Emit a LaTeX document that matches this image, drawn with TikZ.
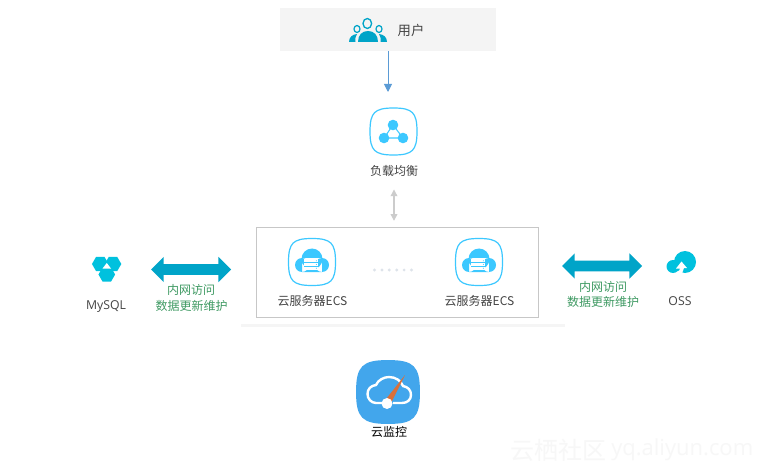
\documentclass[tikz,border=0pt]{standalone}
\usepackage{fontspec}
\setmainfont{Open Sans}
\newfontfamily\cjk{Noto Sans CJK SC}
\usetikzlibrary{arrows.meta,shapes.arrows,shapes.geometric}
\definecolor{teal1}{HTML}{00A4C8}
\definecolor{sky}{HTML}{3CC8FF}
\definecolor{cyan1}{HTML}{00C1DE}
\definecolor{txt}{HTML}{444444}
\definecolor{grn}{HTML}{3F9A63}
\tikzset{
  lbl/.style={font=\cjk\fontsize{9}{11}\selectfont,text=txt,inner sep=0pt,align=center},
  latin/.style={font=\fontsize{9.2}{11}\selectfont,text=txt,inner sep=0pt},
  grnlbl/.style={font=\cjk\fontsize{9}{11}\selectfont,text=grn,inner sep=0pt},
  fatarrow/.style={double arrow,draw=none,fill=teal1,inner sep=0pt,minimum height=60pt,
     double arrow head extend=5.6pt,double arrow tip angle=90},
  squircle/.pic={\path[pic actions] (0,-23.5) .. controls (19,-23.5) and (23.5,-19) .. (23.5,0)
     .. controls (23.5,19) and (19,23.5) .. (0,23.5)
     .. controls (-19,23.5) and (-23.5,19) .. (-23.5,0)
     .. controls (-23.5,-19) and (-19,-23.5) .. (0,-23.5) -- cycle;},
  ecsicon/.pic={
    \path[draw=sky,line width=.9pt,fill=white] (0,-23.5) .. controls (19,-23.5) and (23.5,-19) .. (23.5,0)
     .. controls (23.5,19) and (19,23.5) .. (0,23.5)
     .. controls (-19,23.5) and (-23.5,19) .. (-23.5,0)
     .. controls (-23.5,-19) and (-19,-23.5) .. (0,-23.5) -- cycle;
    \fill[sky] (-10,3) circle[radius=7] (10,3) circle[radius=7] (0,-3) circle[radius=10.5] (-10,-4) rectangle (10,10);
    \fill[white] (-7.7,-3) rectangle (6.3,8);
    \draw[sky,line width=.45pt] (-7.7,.6) -- (6.3,.6) (-7.7,4.4) -- (6.3,4.4);
    \fill[sky] (4.3,-1.2) circle[radius=.55] (4.3,2.5) circle[radius=.55] (4.3,6.2) circle[radius=.55];
  },
}
\begin{document}
\begin{tikzpicture}[x=.75pt,y=-.75pt]
\useasboundingbox (0,0) rectangle (775,474);
\fill[white] (0,0) rectangle (775,474);

% user box
\node[fill=black!4.5,minimum width=162pt,minimum height=32.3pt,inner sep=0pt] (usr) at (388,29.5) {};
\node[lbl,font=\cjk\fontsize{10}{12}\selectfont] (usrtext) at (411,30) {用户};
\fill[teal1] (349,42) .. controls (349,37) and (352.5,34.5) .. (357,34) .. controls (355,36.5) and (355,40) .. (355.5,42) -- cycle;
\fill[teal1] (387,42) .. controls (387,37) and (383.5,34.5) .. (379,34) .. controls (381,36.5) and (381,40) .. (380.5,42) -- cycle;
\fill[teal1] (358,42) .. controls (358,35) and (362,31) .. (368,31) .. controls (374,31) and (378,35) .. (378,42) -- cycle;
\draw[teal1,line width=1pt] (367.3,23.5) ellipse[x radius=4.3,y radius=5];
\draw[teal1,line width=.9pt] (357,29) ellipse[x radius=3,y radius=3.5] (379,29) ellipse[x radius=3,y radius=3.5];

% load balancer
\coordinate (lbin) at (388,92);
\draw[color={rgb,255:red,91;green,155;blue,213},line width=.7pt,-{Stealth[length=6pt,width=6pt,inset=0pt]}] (usr.south) -- (lbin);
\pic[draw=sky,line width=.9pt,fill=white] at (393.5,131.5) {squircle};
\fill[sky] (393,125) circle[radius=5.3] (384,138) circle[radius=5.3] (403,138) circle[radius=5.3];
\draw[sky,line width=.8pt] (393,125) -- (384,138) -- (403,138) -- cycle;
\node[lbl] (lbtext) at (394,171) {负载均衡};

% ECS box
\node[draw=black!22,line width=.75pt,minimum width=212pt,minimum height=67.5pt,inner sep=0pt] (ecsbox) at (397.5,272.3) {};
\draw[black!20,line width=.9pt,{Stealth[length=5pt,width=5pt,inset=0pt]}-{Stealth[length=5pt,width=5pt,inset=0pt]},
  shorten <=9.5pt,shorten >=4.5pt] (lbtext.south) -- (lbtext.south |- ecsbox.north);
\fill[black!4] (241,323.5) rectangle (565,326.5);
\pic at (312,262) {ecsicon};
\pic at (479,262) {ecsicon};
\node[lbl] (ecs1) at (312.5,301) {云服务器ECS};
\node[lbl] (ecs2) at (479.5,301) {云服务器ECS};
\foreach \i in {0,...,5} \fill[color={rgb,255:red,221;green,227;blue,234}] ({374.5+\i*7.4},270) circle[radius=1.6];

% MySQL
\foreach \cx/\cy in {100.3/264,113/264,106.8/274.5}
  \node[regular polygon,regular polygon sides=6,fill=cyan1,minimum size=12.5pt,inner sep=0pt] at (\cx,\cy) {};
\fill[white] (102.5,268.5) -- (106.8,263) -- (111,268.5) -- cycle;
\node[latin] (mysql) at (106,307) {MySQL};
\node[fatarrow] (arrL) at (191,269.5) {\rule{0pt}{7.5pt}};
\node[grnlbl] (l1) at (191,290) {内网访问};
\node[grnlbl] (l2) at (191.5,306) {数据更新维护};

% OSS
\node[fatarrow] (arrR) at (602,266) {\rule{0pt}{7.5pt}};
\node[grnlbl] (r1) at (603,287) {内网访问};
\node[grnlbl] (r2) at (603,302) {数据更新维护};
\fill[cyan1] (685,262) circle[radius=11] (673,266.5) circle[radius=6.5];
\fill[white] (676,268.5) -- (681.5,261.5) -- (687,268) -- (684,268) -- (682,273.5) -- (678,273.5) -- (680,268.5) -- cycle;
\node[latin] (oss) at (680,301) {OSS};

% monitor
\pic[fill={rgb,255:red,66;green,166;blue,236},scale=1.36] at (388,392) {squircle};
\draw[white,line width=1.8pt] (382,403) -- (376,403) .. controls (371,403) and (367.5,398.5) .. (367.5,394)
  .. controls (367.5,389) and (371,385.5) .. (376,385) .. controls (378,380) and (384,377) .. (389,377)
  .. controls (396,377) and (401,381) .. (403,386) .. controls (408,387) and (411,390) .. (411,395)
  .. controls (411,400) and (407,403) .. (402,403) -- (393,403);
\fill[color={rgb,255:red,217;green,112;blue,58}] (384.5,401) -- (390,405) -- (405,375) -- cycle;
\fill[white] (387,403.5) circle[radius=5.5];
\node[lbl,text=black] (mon) at (389,432) {云监控};

% watermark
\node[font=\cjk\fontsize{18}{20}\selectfont,text=black!3,inner sep=0pt,anchor=west] (wm1) at (510,450) {云栖社区};
\node[font=\fontsize{16.5}{20}\selectfont,text=black!3,inner sep=0pt,anchor=west] (wm2) at (611,450) {yq.aliyun.com};
\end{tikzpicture}
\end{document}
